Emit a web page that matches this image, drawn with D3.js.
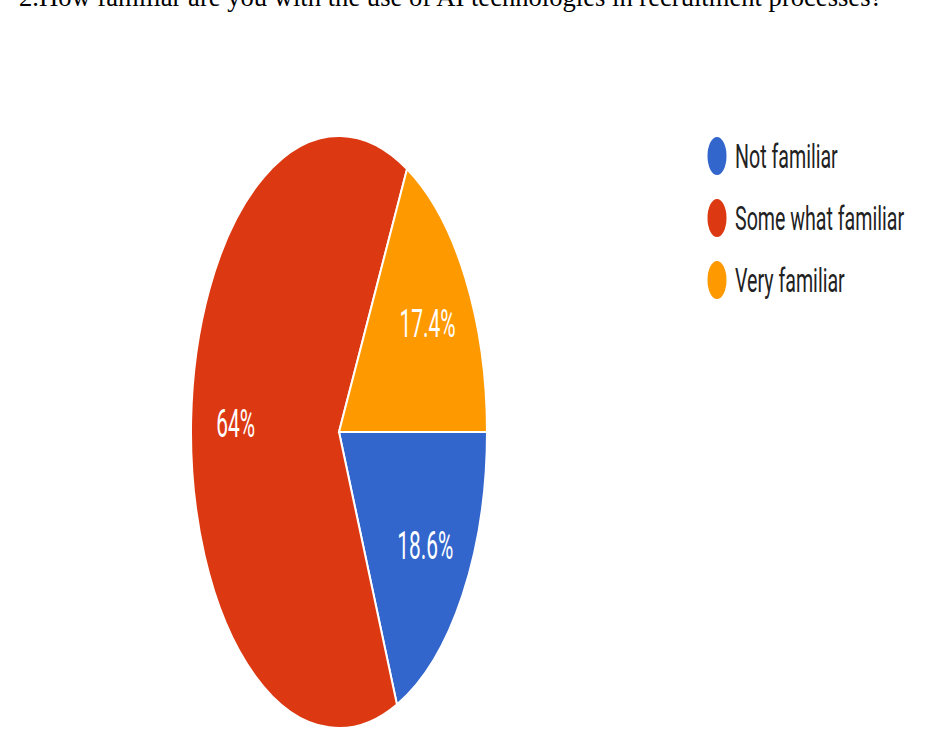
<!DOCTYPE html>
<html>
<head>
<meta charset="utf-8">
<script src="https://cdn.jsdelivr.net/npm/d3@7"></script>
<style>
  body { margin: 0; background: #fff; }
</style>
</head>
<body>
<script>
var width = 926,
    height = 731;

// data
var categories = ["Not familiar", "Some what familiar", "Very familiar"];
var values = [18.6, 64, 17.4];
var labels = ["18.6%", "64%", "17.4%"];
var colors = ["#3366cc", "#dc3912", "#ff9900"];

var title = "2.How familiar are you with the use of AI technologies in recruitment processes?";

// the picture is squashed: x is half of y
var sx = 0.5,
    radius = 296,
    cx = 339,
    cy = 432;

var svg = d3.select("body")
    .append("svg")
    .attr("width", width)
    .attr("height", height);

// title sits partly above the top edge, as in the source
svg.append("text")
    .attr("x", 19)
    .attr("y", 6)
    .style("font-family", "'Liberation Serif', 'Times New Roman', serif")
    .style("font-size", "26.6px")
    .style("fill", "#000")
    .text(title);

var pie = d3.pie()
    .sort(null)
    .startAngle(Math.PI / 2)
    .endAngle(Math.PI / 2 + 2 * Math.PI);

var arc = d3.arc().innerRadius(0).outerRadius(radius);
var labelArc = d3.arc().innerRadius(207).outerRadius(207);

var arcs = pie(values);

var g = svg.append("g")
    .attr("transform", "translate(" + cx + "," + cy + ") scale(" + sx + ",1)");

g.selectAll("path")
    .data(arcs)
    .enter().append("path")
        .attr("d", arc)
        .style("fill", function(d, i) { return colors[i]; })
        .style("stroke", "#fff")
        .style("stroke-width", 2)
        .attr("vector-effect", "non-scaling-stroke");

// slice labels
svg.selectAll(".slabel")
    .data(arcs)
    .enter().append("text")
        .attr("class", "slabel")
        .attr("transform", function(d) {
            var c = labelArc.centroid(d);
            return "translate(" + (cx + c[0] * sx) + "," + (cy + c[1] + 13) + ") scale(0.55,1)";
        })
        .attr("text-anchor", "middle")
        .style("font-family", "Roboto, sans-serif")
        .style("font-size", "38px")
        .style("fill", "#fff")
        .text(function(d, i) { return labels[i]; });

// legend
var legend = svg.selectAll(".legend")
    .data(categories)
    .enter().append("g")
        .attr("class", "legend")
        .attr("transform", function(d, i) { return "translate(717," + (156 + i * 62) + ")"; });

legend.append("ellipse")
    .attr("rx", 9.5)
    .attr("ry", 19)
    .style("fill", function(d, i) { return colors[i]; });

legend.append("text")
    .attr("transform", "translate(18,12) scale(0.577,1)")
    .style("font-family", "Roboto, sans-serif")
    .style("font-size", "34px")
    .style("fill", "#222")
    .text(function(d) { return d; });
</script>
</body>
</html>
